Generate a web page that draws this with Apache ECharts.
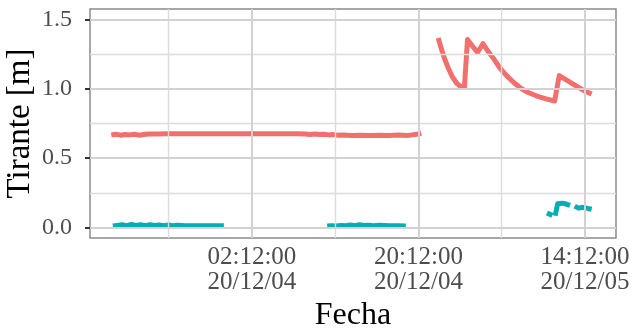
<!DOCTYPE html>
<html>
<head>
<meta charset="utf-8">
<script src="https://cdn.jsdelivr.net/npm/echarts@6/dist/echarts.min.js"></script>
<style>html,body{margin:0;padding:0;background:#fff;}#c{width:634px;height:330px;}</style>
</head>
<body>
<div id="c"></div>
<script>
// ---- data ----
var redTimes = [
 "2020-12-03 11:00","2020-12-03 11:30","2020-12-03 12:00","2020-12-03 12:30","2020-12-03 13:00","2020-12-03 13:30",
 "2020-12-03 14:00","2020-12-03 14:30","2020-12-03 15:00","2020-12-03 16:00","2020-12-03 17:00","2020-12-03 18:00",
 "2020-12-03 19:00","2020-12-03 20:00","2020-12-03 21:00","2020-12-03 22:00","2020-12-03 23:00","2020-12-04 00:00",
 "2020-12-04 01:00","2020-12-04 02:00","2020-12-04 03:00","2020-12-04 04:00","2020-12-04 05:00","2020-12-04 06:00",
 "2020-12-04 07:00","2020-12-04 08:00","2020-12-04 08:30","2020-12-04 09:00","2020-12-04 09:30","2020-12-04 10:00",
 "2020-12-04 10:30","2020-12-04 11:00","2020-12-04 11:30","2020-12-04 12:00","2020-12-04 13:00","2020-12-04 14:00",
 "2020-12-04 15:00","2020-12-04 16:00","2020-12-04 17:00","2020-12-04 18:00","2020-12-04 19:00","2020-12-04 19:30",
 "2020-12-04 20:00","2020-12-04 20:30",
 "2020-12-04 21:20",
 "2020-12-04 22:20","2020-12-04 22:40","2020-12-04 23:00","2020-12-04 23:25","2020-12-04 23:50","2020-12-05 00:20",
 "2020-12-05 00:50","2020-12-05 01:10",
 "2020-12-05 01:30","2020-12-05 02:00","2020-12-05 02:35","2020-12-05 03:10","2020-12-05 03:40","2020-12-05 04:15",
 "2020-12-05 05:00","2020-12-05 05:45","2020-12-05 06:30","2020-12-05 07:10","2020-12-05 08:00","2020-12-05 09:00",
 "2020-12-05 10:00","2020-12-05 10:55","2020-12-05 11:25","2020-12-05 12:10","2020-12-05 12:55","2020-12-05 14:00",
 "2020-12-05 14:55"
];
var redValues = [
 0.668,0.672,0.666,0.671,0.668,0.673,
 0.666,0.670,0.674,0.675,0.676,0.676,
 0.676,0.676,0.676,0.677,0.677,0.677,
 0.677,0.677,0.677,0.677,0.677,0.676,
 0.676,0.675,0.671,0.674,0.670,0.672,
 0.668,0.670,0.665,0.667,0.664,0.666,
 0.663,0.666,0.663,0.667,0.664,0.668,
 0.672,0.680,
 null,
 1.366,1.290,1.220,1.150,1.090,1.040,
 1.012,1.010,
 1.355,1.310,1.262,1.325,1.275,1.224,
 1.150,1.093,1.045,1.009,0.975,0.948,
 0.928,0.912,1.095,1.065,1.034,0.990,
 0.962
];
var tealTimes = [
 "2020-12-03 11:10","2020-12-03 11:40","2020-12-03 12:10","2020-12-03 12:40","2020-12-03 13:10","2020-12-03 13:40",
 "2020-12-03 14:10","2020-12-03 14:40","2020-12-03 15:10","2020-12-03 15:40","2020-12-03 16:10","2020-12-03 16:40",
 "2020-12-03 17:10","2020-12-03 17:40","2020-12-03 18:10","2020-12-03 19:00","2020-12-03 20:00","2020-12-03 21:00",
 "2020-12-03 22:00","2020-12-03 23:10",
 "2020-12-04 04:00",
 "2020-12-04 10:20","2020-12-04 10:50","2020-12-04 11:20","2020-12-04 11:50","2020-12-04 12:20","2020-12-04 12:50",
 "2020-12-04 13:20","2020-12-04 13:50","2020-12-04 14:20","2020-12-04 14:50","2020-12-04 15:20","2020-12-04 16:00",
 "2020-12-04 17:00","2020-12-04 18:00","2020-12-04 18:50",
 "2020-12-05 03:00",
 "2020-12-05 10:05","2020-12-05 10:40",
 "2020-12-05 10:48",
 "2020-12-05 10:58","2020-12-05 11:15","2020-12-05 11:45","2020-12-05 12:15","2020-12-05 12:35",
 "2020-12-05 12:48",
 "2020-12-05 13:05","2020-12-05 13:30","2020-12-05 14:00","2020-12-05 14:30","2020-12-05 14:55"
];
var tealValues = [
 0.012,0.016,0.020,0.014,0.022,0.016,
 0.021,0.013,0.020,0.016,0.019,0.014,
 0.018,0.013,0.017,0.014,0.013,0.013,
 0.013,0.013,
 null,
 0.012,0.014,0.011,0.016,0.013,0.019,
 0.014,0.020,0.015,0.017,0.014,0.016,
 0.013,0.014,0.012,
 null,
 0.105,0.088,
 null,
 0.085,0.172,0.176,0.168,0.160,
 null,
 0.155,0.140,0.146,0.138,0.132
];
var xRange = ["2020-12-03 08:42","2020-12-05 17:33"];
var xMajorTicks = ["2020-12-04 02:12","2020-12-04 20:12","2020-12-05 14:12"];
var xMinorTicks = ["2020-12-03 17:12","2020-12-04 11:12","2020-12-05 05:12"];
var yRange = [-0.075, 1.575];
var yMajorTicks = [0, 0.5, 1.0, 1.5];
var yMinorTicks = [0.25, 0.75, 1.25];
var xTitle = "Fecha";
var yTitle = "Tirante [m]";

// ---- helpers ----
function parseT(s){
  var p = s.split(/[- :]/).map(Number);
  return Date.UTC(p[0], p[1]-1, p[2], p[3], p[4], 0);
}
function pad(n){ return (n<10?'0':'')+n; }
function fmtX(v){
  var d = new Date(v);
  return pad(d.getUTCHours())+':'+pad(d.getUTCMinutes())+':'+pad(d.getUTCSeconds())+'\n'+
         pad(d.getUTCFullYear()%100)+'/'+pad(d.getUTCMonth()+1)+'/'+pad(d.getUTCDate());
}
function pairs(ts, vs){ return ts.map(function(t,i){ return [parseT(t), vs[i]]; }); }

var FONT = 'Liberation Serif';
var RED = '#F16F6C', TEAL = '#00AEB4';
var majorStyle = {color:'#d2d2d2', width:2, type:'solid'};
var minorStyle = {color:'#dcdcdc', width:1.4, type:'solid'};
var gridLines = []
  .concat(xMinorTicks.map(function(t){ return {xAxis: parseT(t), lineStyle: minorStyle}; }))
  .concat(yMinorTicks.map(function(v){ return {yAxis: v, lineStyle: minorStyle}; }))
  .concat(xMajorTicks.map(function(t){ return {xAxis: parseT(t), lineStyle: majorStyle}; }))
  .concat(yMajorTicks.map(function(v){ return {yAxis: v, lineStyle: majorStyle}; }));

var chart = echarts.init(document.getElementById('c'), null, {renderer:'canvas'});
chart.setOption({
  animation: false,
  backgroundColor: '#ffffff',
  grid: {left: 90, right: 18, top: 9, bottom: 92, show: true, borderColor: '#8a8a8a', borderWidth: 1.5, backgroundColor: 'transparent', containLabel: false, outerBoundsMode: 'none'},
  xAxis: {
    type: 'value',
    min: parseT(xRange[0]), max: parseT(xRange[1]),
    name: xTitle, nameLocation: 'middle', nameGap: 58,
    nameTextStyle: {fontFamily: FONT, fontSize: 32, color: '#000'},
    axisLine: {show: false},
    axisTick: {show: true, customValues: xMajorTicks.map(parseT), length: 5, lineStyle: {color: '#333', width: 2}},
    axisLabel: {customValues: xMajorTicks.map(parseT), formatter: fmtX, fontFamily: FONT, fontSize: 25, color: '#4d4d4d', lineHeight: 25, margin: 7},
    splitLine: {show: false}
  },
  yAxis: {
    type: 'value',
    min: yRange[0], max: yRange[1],
    name: yTitle, nameLocation: 'middle', nameGap: 53, nameMoveOverlap: false,
    nameTextStyle: {fontFamily: FONT, fontSize: 33, color: '#000'},
    axisLine: {show: false},
    axisTick: {show: true, customValues: yMajorTicks, length: 5, lineStyle: {color: '#333', width: 2}},
    axisLabel: {customValues: yMajorTicks, formatter: function(v){ return v.toFixed(1); }, fontFamily: FONT, fontSize: 24, color: '#4d4d4d', margin: 18},
    splitLine: {show: false}
  },
  series: [
    {type: 'line', data: [], z: 1, silent: true,
     markLine: {silent: true, symbol: ['none','none'], label: {show: false}, animation: false, data: gridLines}},
    {type: 'line', name: 'a', data: pairs(redTimes, redValues), showSymbol: false, connectNulls: false, z: 3,
     lineStyle: {color: RED, width: 5, join: 'round'}, itemStyle: {color: RED}},
    {type: 'line', name: 'b', data: pairs(tealTimes, tealValues), showSymbol: false, connectNulls: false, z: 3,
     lineStyle: {color: TEAL, width: 5, join: 'round'}, itemStyle: {color: TEAL}}
  ]
});
</script>
</body>
</html>
